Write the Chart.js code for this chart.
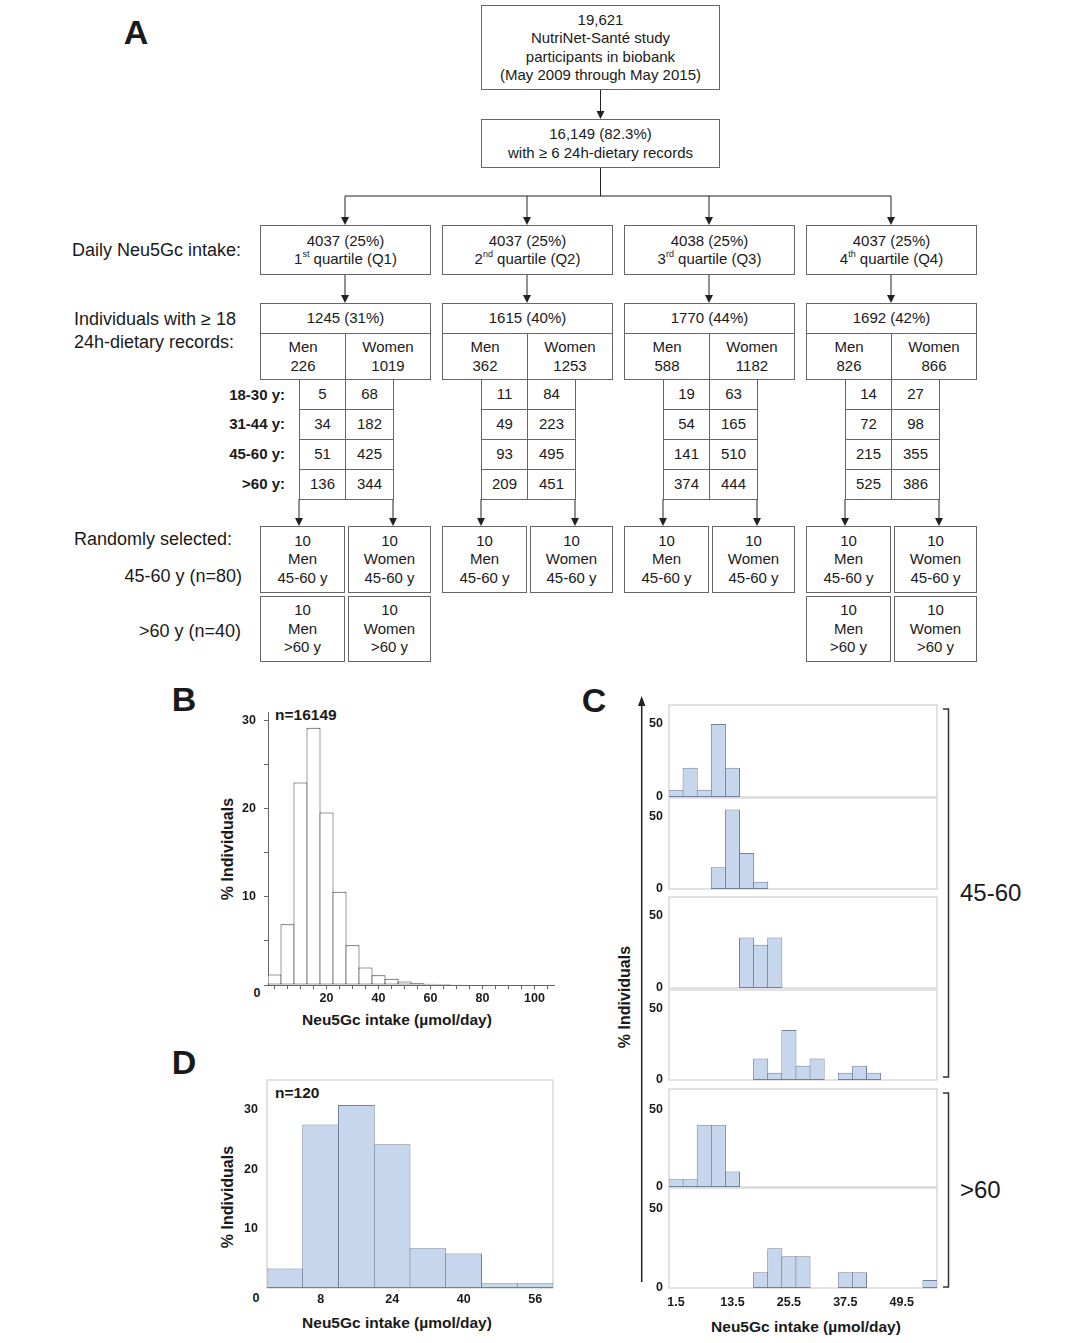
<!DOCTYPE html>
<html lang="en">
<head>
<meta charset="utf-8">
<title>Neu5Gc intake – NutriNet-Santé</title>
<script src="https://cdn.jsdelivr.net/npm/chart.js@4.4.1/dist/chart.umd.min.js"></script>
<style>
html, body { margin: 0; padding: 0; background: #fff; }
#page { position: relative; width: 1080px; height: 1343px; overflow: hidden; font-family: "Liberation Sans", Arial, sans-serif; color: #1a1a1a; }
.box { position: absolute; box-sizing: border-box; border: 1px solid #666; display: flex; justify-content: center; align-items: center; text-align: center; font-size: 15px; line-height: 18.5px; background: #fff; }
.t { position: absolute; white-space: nowrap; }
sup { font-size: 9px; line-height: 0; position: relative; top: -1px; vertical-align: super; }
canvas { position: absolute; }
svg { position: absolute; left: 0; top: 0; }
</style>
</head>
<body>
<div id="page"><svg id="links" width="1080" height="1343"></svg></div>
<script>
// ---------- data: flow chart (panel A) ----------
const cohortTotal = 19621;
const cohortWith6 = 16149;
const cohortWith6Pct = 82.3;
const quartileN = [4037, 4037, 4038, 4037];
const quartilePct = [25, 25, 25, 25];
const quartileOrd = ['1<sup>st</sup>', '2<sup>nd</sup>', '3<sup>rd</sup>', '4<sup>th</sup>'];
const records18N = [1245, 1615, 1770, 1692];
const records18Pct = [31, 40, 44, 42];
const menN = [226, 362, 588, 826];
const womenN = [1019, 1253, 1182, 866];
const ageGroups = ['18-30 y:', '31-44 y:', '45-60 y:', '&gt;60 y:'];
const menByAge = [[5, 34, 51, 136], [11, 49, 93, 209], [19, 54, 141, 374], [14, 72, 215, 525]];
const womenByAge = [[68, 182, 425, 344], [84, 223, 495, 451], [63, 165, 510, 444], [27, 98, 355, 386]];
const selectedPerCell = 10;
const olderSelectedQuartiles = [0, 3];

// ---------- data: panel B (all participants, % per 5 µmol/day bin, midpoints) ----------
const bMidpoints = [0, 5, 10, 15, 20, 25, 30, 35, 40, 45, 50, 55, 60, 65, 70, 75, 80, 85, 90, 95, 100, 105];
const bPercent = [1.2, 6.9, 23.0, 29.2, 19.6, 10.6, 4.5, 2.0, 1.1, 0.7, 0.4, 0.2, 0.15, 0.1, 0.08, 0.05, 0, 0, 0, 0, 0, 0];
const bTickLabels = [20, 40, 60, 80, 100];

// ---------- data: panel C (20 people per group, % per 3 µmol/day bin) ----------
const cMidpoints = [1.5, 4.5, 7.5, 10.5, 13.5, 16.5, 19.5, 22.5, 25.5, 28.5, 31.5, 34.5, 37.5, 40.5, 43.5, 46.5, 49.5, 52.5, 55.5];
const cQ1Age45 = [5, 20, 5, 50, 20, 0, 0, 0, 0, 0, 0, 0, 0, 0, 0, 0, 0, 0, 0];
const cQ2Age45 = [0, 0, 0, 15, 55, 25, 5, 0, 0, 0, 0, 0, 0, 0, 0, 0, 0, 0, 0];
const cQ3Age45 = [0, 0, 0, 0, 0, 35, 30, 35, 0, 0, 0, 0, 0, 0, 0, 0, 0, 0, 0];
const cQ4Age45 = [0, 0, 0, 0, 0, 0, 15, 5, 35, 10, 15, 0, 5, 10, 5, 0, 0, 0, 0];
const cQ1Age60 = [5, 5, 40, 40, 10, 0, 0, 0, 0, 0, 0, 0, 0, 0, 0, 0, 0, 0, 0];
const cQ4Age60 = [0, 0, 0, 0, 0, 0, 10, 25, 20, 20, 0, 0, 10, 10, 0, 0, 0, 0, 5];
const cTickLabels = [1.5, 13.5, 25.5, 37.5, 49.5];

// ---------- data: panel D (n=120, % per 8 µmol/day bin, midpoints) ----------
const dMidpoints = [0, 8, 16, 24, 32, 40, 48, 56];
const dPercent = [3.3, 27.5, 30.8, 24.2, 6.7, 5.8, 0.8, 0.8];
const dTickLabels = [8, 24, 40, 56];

// ---------- helpers ----------
const page = document.getElementById('page');
const svg = document.getElementById('links');
const NS = 'http://www.w3.org/2000/svg';

function text(html, x, y, o = {}) {
  const el = document.createElement('div');
  el.className = 't';
  const size = o.size || 15;
  const lh = size * 1.25;
  el.style.fontSize = size + 'px';
  el.style.lineHeight = lh + 'px';
  el.style.top = (y - lh / 2) + 'px';
  if (o.bold) el.style.fontWeight = 'bold';
  if (o.align === 'right') {
    el.style.right = (1080 - x) + 'px';
  } else if (o.align === 'center') {
    el.style.left = (x - 300) + 'px';
    el.style.width = '600px';
    el.style.textAlign = 'center';
  } else {
    el.style.left = x + 'px';
  }
  if (o.rotate) el.style.transform = 'rotate(-90deg)';
  el.innerHTML = html;
  page.appendChild(el);
}

function box(x, y, w, h, html) {
  const el = document.createElement('div');
  el.className = 'box';
  el.style.left = x + 'px';
  el.style.top = y + 'px';
  el.style.width = w + 'px';
  el.style.height = h + 'px';
  el.innerHTML = '<div>' + html + '</div>';
  page.appendChild(el);
}

function svgEl(tag, attrs) {
  const el = document.createElementNS(NS, tag);
  for (const k in attrs) el.setAttribute(k, attrs[k]);
  svg.appendChild(el);
  return el;
}

function line(x1, y1, x2, y2, color = '#222', w = 1) {
  svgEl('line', {x1, y1, x2, y2, stroke: color, 'stroke-width': w});
}

function arrowDown(x, y1, y2) {
  line(x, y1, x, y2 - 6);
  svgEl('polygon', {points: `${x - 4},${y2 - 8} ${x + 4},${y2 - 8} ${x},${y2}`, fill: '#222'});
}

// ---------- panel A ----------
text('A', 136, 32, {size: 34, bold: true, align: 'center'});

box(481, 5, 239, 85, cohortTotal.toLocaleString('en-US') + '<br>NutriNet-Santé study<br>participants in biobank<br>(May 2009 through May 2015)');
arrowDown(600.5, 90, 119);
box(481, 119, 239, 49, cohortWith6.toLocaleString('en-US') + ' (' + cohortWith6Pct + '%)<br>with ≥ 6 24h-dietary records');

const qLeft = [260, 442, 624, 806];
const qWidth = 171;
const qCenter = qLeft.map(l => l + 85);

line(600.5, 168, 600.5, 196);
line(qCenter[0], 196, qCenter[3], 196);

text('Daily Neu5Gc intake:', 241, 250, {size: 18, align: 'right'});
text('Individuals with ≥ 18', 74, 319, {size: 18});
text('24h-dietary records:', 74, 342, {size: 18});
ageGroups.forEach((g, r) => text(g, 285, 395 + r * 29.7, {bold: true, align: 'right'}));

qLeft.forEach((L, i) => {
  const c = qCenter[i];
  arrowDown(c, 196, 225);
  box(L, 225, qWidth, 50, quartileN[i] + ' (' + quartilePct[i] + '%)<br>' + quartileOrd[i] + ' quartile (Q' + (i + 1) + ')');
  arrowDown(c, 275, 303);
  box(L, 303, qWidth, 31, records18N[i] + ' (' + records18Pct[i] + '%)');
  box(L, 333, 86, 47, 'Men<br>' + menN[i]);
  box(c, 333, L + qWidth - c, 47, 'Women<br>' + womenN[i]);
  for (let r = 0; r < 4; r++) {
    box(c - 46, 379 + r * 30, 47, 31, menByAge[i][r]);
    box(c, 379 + r * 30, 49, 31, womenByAge[i][r]);
  }
  arrowDown(c - 46, 499, 526);
  arrowDown(c + 48, 499, 526);
  box(L, 526, 85, 67, selectedPerCell + '<br>Men<br>45-60 y');
  box(L + 88, 526, qWidth - 88, 67, selectedPerCell + '<br>Women<br>45-60 y');
  if (olderSelectedQuartiles.includes(i)) {
    box(L, 596, 85, 66, selectedPerCell + '<br>Men<br>&gt;60 y');
    box(L + 88, 596, qWidth - 88, 66, selectedPerCell + '<br>Women<br>&gt;60 y');
  }
});

text('Randomly selected:', 74, 539, {size: 18});
text('45-60 y (n=80)', 242, 576, {size: 18, align: 'right'});
text('&gt;60 y (n=40)', 241, 631, {size: 18, align: 'right'});

// ---------- panel labels and titles for B, C, D ----------
text('B', 184, 699, {size: 34, bold: true, align: 'center'});
text('C', 594, 700, {size: 34, bold: true, align: 'center'});
text('D', 184, 1062, {size: 34, bold: true, align: 'center'});

text('n=16149', 275, 715, {size: 15.5, bold: true});
text('n=120', 275, 1093, {size: 15.5, bold: true});
text('0', 257, 994, {size: 12.5, bold: true, align: 'center'});
text('0', 256, 1299, {size: 12.5, bold: true, align: 'center'});

text('% Individuals', 228, 849, {size: 16, bold: true, align: 'center', rotate: true});
text('% Individuals', 228, 1197, {size: 16, bold: true, align: 'center', rotate: true});
text('% Individuals', 625, 997, {size: 16, bold: true, align: 'center', rotate: true});
text('Neu5Gc intake (µmol/day)', 397, 1020, {size: 15.5, bold: true, align: 'center'});
text('Neu5Gc intake (µmol/day)', 397, 1323, {size: 15.5, bold: true, align: 'center'});
text('Neu5Gc intake (µmol/day)', 806, 1327, {size: 15.5, bold: true, align: 'center'});

text('45-60', 960, 893, {size: 24});
text('&gt;60', 960, 1190, {size: 24});

// panel C vertical arrow and brackets
line(641.7, 1282, 641.7, 703, '#222', 1.5);
svgEl('polygon', {points: '638,706 645.4,706 641.7,696', fill: '#222'});
svgEl('path', {d: 'M943 709 H948.5 V1077 H943', fill: 'none', stroke: '#333', 'stroke-width': 1.5});
svgEl('path', {d: 'M943 1093 H948.5 V1287 H943', fill: 'none', stroke: '#333', 'stroke-width': 1.5});

// ---------- charts ----------
Chart.defaults.font.family = '"Liberation Sans", Arial, sans-serif';
Chart.defaults.font.size = 12.5;
Chart.defaults.font.weight = 'bold';
Chart.defaults.color = '#1a1a1a';

const plotFrame = {
  id: 'plotFrame',
  beforeDatasetsDraw(chart, args, opts) {
    if (!opts.color) return;
    const a = chart.chartArea, ctx = chart.ctx;
    ctx.save();
    ctx.strokeStyle = opts.color;
    ctx.lineWidth = 1.5;
    ctx.strokeRect(a.left, a.top, a.right - a.left, a.bottom - a.top);
    ctx.restore();
  }
};

const PAD = 20;

function histogram(plot, labels, values, o) {
  const cv = document.createElement('canvas');
  const left = plot.left - o.yWidth;
  const top = plot.top - PAD;
  const width = plot.right + o.padRight - left;
  const height = plot.bottom + o.xHeight + PAD - top;
  cv.width = width;
  cv.height = height;
  cv.style.left = left + 'px';
  cv.style.top = top + 'px';
  cv.style.width = width + 'px';
  cv.style.height = height + 'px';
  page.appendChild(cv);
  const binPx = (plot.right - plot.left) / labels.length;
  return new Chart(cv, {
    type: 'bar',
    data: {
      labels: labels,
      datasets: [{
        data: values,
        backgroundColor: o.fill,
        borderColor: o.edge,
        borderWidth: 1,
        borderSkipped: false,
        barPercentage: (binPx + 1) / binPx,
        categoryPercentage: 1
      }]
    },
    options: {
      responsive: false,
      animation: false,
      layout: {padding: {top: PAD, right: o.padRight, bottom: PAD, left: 0}},
      plugins: {legend: {display: false}, tooltip: {enabled: false}, plotFrame: {color: o.frame}},
      scales: {
        x: {
          grid: o.axis ? {drawOnChartArea: false, offset: false, drawTicks: true, tickLength: 4, color: o.axis}
                       : {display: false, drawTicks: false},
          border: {display: !!o.axis, color: o.axis || '#000'},
          ticks: {
            display: o.showX, autoSkip: false, maxRotation: 0, padding: o.xPad,
            callback: (v, i) => o.xLabels.includes(labels[i]) ? String(labels[i]) : ''
          },
          afterFit: s => { s.height = o.xHeight; }
        },
        y: {
          min: 0,
          max: o.yMax,
          afterBuildTicks: s => { s.ticks = o.yTicks.map(v => ({value: v})); },
          grid: o.axis ? {drawOnChartArea: false, drawTicks: true, tickLength: 4, color: o.axis}
                       : {display: false, drawTicks: false},
          border: {display: !!o.axis, color: o.axis || '#000'},
          ticks: {padding: o.yPad, callback: v => o.yLabels.includes(v) ? String(v) : ''},
          afterFit: s => { s.width = o.yWidth; }
        }
      }
    },
    plugins: [plotFrame]
  });
}

// panel B
histogram({left: 268, right: 554, top: 712, bottom: 985}, bMidpoints, bPercent, {
  fill: '#ffffff', edge: '#3a3a3a', axis: '#666666', frame: null,
  yMax: 31, yTicks: [0, 5, 10, 15, 20, 25, 30], yLabels: [10, 20, 30], yWidth: 40, yPad: 8,
  xHeight: 25, xPad: 2, showX: true, xLabels: bTickLabels, padRight: 10
});

// panel C
const cBlue = '#c6d6ec', cEdge = '#71809a';
const cPlots = [
  {top: 705, bottom: 797},
  {top: 798, bottom: 889},
  {top: 897, bottom: 988},
  {top: 990, bottom: 1080},
  {top: 1089, bottom: 1187},
  {top: 1188, bottom: 1288}
];
const cSeries = [cQ1Age45, cQ2Age45, cQ3Age45, cQ4Age45, cQ1Age60, cQ4Age60];
cPlots.forEach((p, k) => {
  const last = k === cPlots.length - 1;
  histogram({left: 669, right: 937, top: p.top, bottom: p.bottom}, cMidpoints, cSeries[k], {
    fill: cBlue, edge: cEdge, axis: null, frame: '#d9d9d9',
    yMax: 63, yTicks: [0, 50], yLabels: [0, 50], yWidth: 40, yPad: 6,
    xHeight: last ? 30 : 0, xPad: 7, showX: last, xLabels: cTickLabels, padRight: 6
  });
});

// panel D
histogram({left: 267, right: 553, top: 1080, bottom: 1288}, dMidpoints, dPercent, {
  fill: cBlue, edge: cEdge, axis: null, frame: '#d9d9d9',
  yMax: 35, yTicks: [0, 10, 20, 30], yLabels: [10, 20, 30], yWidth: 40, yPad: 9,
  xHeight: 25, xPad: 4, showX: true, xLabels: dTickLabels, padRight: 10
});
</script>
</body>
</html>
